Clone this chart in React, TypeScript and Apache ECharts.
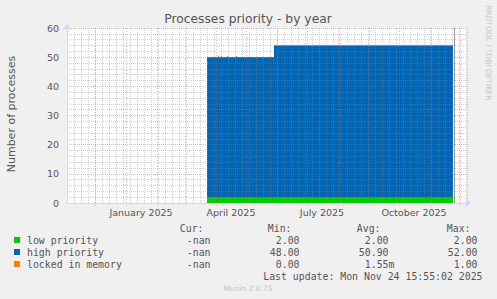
import React, { useEffect, useRef } from "react";
import * as echarts from "echarts";

// ---------- data ----------
const chartTitle = "Processes priority - by year";
const yAxisName = "Number of processes";
const axisStart = "2024-11-03";
const axisEnd = "2025-12-08";
const yMin = 0;
const yMax = 60;
const yInterval = 10;

const xTickDates = ["2025-01-16", "2025-04-16", "2025-07-16", "2025-10-16"];
const xTickLabels = ["January 2025", "April 2025", "July 2025", "October 2025"];
const monthStarts = [
  "2024-12-01", "2025-01-01", "2025-02-01", "2025-03-01", "2025-04-01",
  "2025-05-01", "2025-06-01", "2025-07-01", "2025-08-01", "2025-09-01",
  "2025-10-01", "2025-11-01", "2025-12-01",
];

const sampleDates = [
  "2025-03-23", "2025-04-03", "2025-04-04", "2025-04-06", "2025-04-07",
  "2025-04-12", "2025-04-13", "2025-04-21", "2025-04-22", "2025-05-29", "2025-11-24",
];
const lowPriority = [2, 2, 2, 2, 2, 2, 2, 2, 2, 2, 2];
const highPriority = [48, 48, 48, 48, 48, 48, 48, 48, 48, 52, 52];
const lockedInMemory = [0, 0.4, 0, 0.4, 0, 0.4, 0, 0.4, 0, 0, 0];
const dataEndMarker = ["2025-11-25"];

const legendNames = ["low priority", "high priority", "locked in memory"];
const legendColors = ["#00CC00", "#0066B3", "#FF8000"];
const statHeaders = ["Cur:", "Min:", "Avg:", "Max:"];
const curValues = ["-nan", "-nan", "-nan"];
const minValues = ["2.00", "48.00", "0.00"];
const avgValues = ["2.00", "50.90", "1.55m"];
const maxValues = ["2.00", "52.00", "1.00"];
const lastUpdate = "Last update: Mon Nov 24 15:55:02 2025";
const footerText = "Munin 2.0.75";
const sideText = "RRDTOOL / TOBI OETIKER";

// ---------- helpers ----------
const DAY = 86400000;
const ts = (d: string) => Date.parse(d + "T00:00:00Z");

export default function App() {
  const ref = useRef<HTMLDivElement>(null);

  useEffect(() => {
    if (!ref.current) return;
    const chart = echarts.init(ref.current, null, { renderer: "svg" });

    const xs = sampleDates.map(ts);
    const cumLow = lowPriority.slice();
    const cumHigh = lowPriority.map((v, i) => v + highPriority[i]);
    const cumLocked = cumHigh.map((v, i) => v + lockedInMemory[i]);

    const area = (name: string, color: string, vals: number[]) => ({
      type: "line",
      name,
      step: "end",
      data: xs.map((x, i) => [x, vals[i]]),
      showSymbol: false,
      symbol: "none",
      lineStyle: { width: 0, color },
      itemStyle: { color },
      areaStyle: { color, opacity: 1 },
      silent: true,
      z: 2,
    });

    const mono = '"DejaVu Sans Mono", monospace';
    const sans = '"DejaVu Sans", sans-serif';
    const textColor = "#555555";
    const charW = 9.85 * 0.602;

    const headerRight = [203.5, 291.5, 380.5, 470.5];
    const valueRight = [210.5, 299.5, 388.5, 477.5];
    const rowY = [240, 252, 264];
    const cols = [curValues, minValues, avgValues, maxValues];

    const graphics: any[] = [
      {
        type: "text",
        x: 248,
        y: 18.5,
        style: { text: chartTitle, fill: textColor, fontSize: 12.3, fontFamily: sans, align: "center", verticalAlign: "middle" },
      },
      {
        type: "text",
        x: 11,
        y: 114,
        rotation: Math.PI / 2,
        style: { text: yAxisName, fill: textColor, fontSize: 11, fontFamily: sans, align: "center", verticalAlign: "middle" },
      },
      {
        type: "text",
        x: 488.5,
        y: 53,
        rotation: -Math.PI / 2,
        style: { text: sideText, fill: "#c4c4c4", fontSize: 7.4, fontFamily: sans, align: "center", verticalAlign: "middle" },
      },
      {
        type: "text",
        x: 248,
        y: 288,
        style: { text: footerText, fill: "#c4c4c4", fontSize: 7.5, fontFamily: sans, align: "center", verticalAlign: "middle" },
      },
      {
        type: "text",
        x: 482.5,
        y: 276,
        style: { text: lastUpdate, fill: textColor, fontSize: 9.85, fontFamily: mono, align: "right", verticalAlign: "middle" },
      },
    ];
    statHeaders.forEach((h, c) => {
      graphics.push({
        type: "text",
        x: headerRight[c],
        y: 228,
        style: { text: h, fill: textColor, fontSize: 9.85, fontFamily: mono, align: "right", verticalAlign: "middle" },
      });
    });
    legendNames.forEach((name, r) => {
      graphics.push({
        type: "rect",
        shape: { x: 14, y: rowY[r] - 3, width: 6, height: 6 },
        style: { fill: legendColors[r] },
      });
      graphics.push({
        type: "text",
        x: 27,
        y: rowY[r],
        style: { text: name, fill: textColor, fontSize: 9.85, fontFamily: mono, align: "left", verticalAlign: "middle" },
      });
      cols.forEach((col, c) => {
        const v = col[r];
        const suffix = /[a-zA-Z]$/.test(v) && v !== "-nan" ? charW : 0;
        graphics.push({
          type: "text",
          x: valueRight[c] + suffix,
          y: rowY[r],
          style: { text: v, fill: textColor, fontSize: 9.85, fontFamily: mono, align: "right", verticalAlign: "middle" },
        });
      });
    });

    const minorGrid = "rgba(140,140,140,0.4)";
    const majorGrid = "rgba(222,79,79,0.45)";

    chart.setOption({
      animation: false,
      backgroundColor: "#F0F0F0",
      grid: {
        left: 67,
        top: 28,
        width: 400,
        height: 175,
        show: true,
        backgroundColor: "#FFFFFF",
        borderWidth: 0,
        containLabel: false,
      },
      xAxis: [
        {
          type: "value",
          min: ts(axisStart),
          max: ts(axisEnd),
          interval: 7 * DAY,
          z: 5,
          axisLine: {
            show: true,
            lineStyle: { color: "#CFD6F8", width: 1 },
            symbol: ["none", "arrow"],
            symbolSize: [7, 6],
            symbolOffset: [0, 4],
          },
          axisTick: { show: false },
          axisLabel: { show: false },
          splitLine: { show: true, lineStyle: { color: minorGrid, type: [1, 1], width: 1 } },
        },
        {
          type: "value",
          min: ts(axisStart),
          max: ts(axisEnd),
          position: "bottom",
          z: 5,
          axisLine: { show: false },
          axisTick: { show: false },
          splitLine: { show: false },
          axisLabel: {
            show: true,
            customValues: xTickDates.map(ts),
            margin: 4,
            color: textColor,
            fontSize: 9.5,
            fontFamily: sans,
            formatter: (v: number) => {
              const i = xTickDates.findIndex((d) => ts(d) === v);
              return i >= 0 ? xTickLabels[i] : "";
            },
          },
        },
      ],
      yAxis: {
        type: "value",
        min: yMin,
        max: yMax,
        interval: yInterval,
        z: 5,
        axisLine: {
          show: true,
          lineStyle: { color: "#CFD6F8", width: 1 },
          symbol: ["none", "arrow"],
          symbolSize: [7, 6],
          symbolOffset: [0, 4],
        },
        axisTick: { show: false },
        axisLabel: { color: textColor, fontSize: 9.5, fontFamily: sans, margin: 8 },
        splitLine: { show: true, lineStyle: { color: majorGrid, type: [1, 1], width: 1 } },
        minorTick: { show: false, splitNumber: 5 },
        minorSplitLine: { show: true, lineStyle: { color: minorGrid, type: [1, 1], width: 1 } },
      },
      series: [
        area(legendNames[2], legendColors[2], cumLocked),
        area(legendNames[1], legendColors[1], cumHigh),
        area(legendNames[0], legendColors[0], cumLow),
        {
          type: "custom",
          silent: true,
          z: 10,
          xAxisIndex: 0,
          yAxisIndex: 0,
          data: monthStarts.map((d) => [ts(d), yMin]),
          encode: { x: 0, y: 1 },
          renderItem: (params: any, api: any) => {
            const p0 = api.coord([api.value(0), yMin]);
            const p1 = api.coord([api.value(0), yMax]);
            const x = Math.round(p0[0]) + 0.5;
            return {
              type: "line",
              shape: { x1: x, y1: p1[1], x2: x, y2: p0[1] + 3 },
              style: { stroke: majorGrid, lineWidth: 1, lineDash: [1, 2] },
            };
          },
        },
        {
          type: "custom",
          silent: true,
          z: 11,
          xAxisIndex: 0,
          yAxisIndex: 0,
          data: dataEndMarker.map((d) => [ts(d), yMin]),
          encode: { x: 0, y: 1 },
          renderItem: (params: any, api: any) => {
            const p0 = api.coord([api.value(0), yMin]);
            const p1 = api.coord([api.value(0), yMax]);
            const x = Math.round(p0[0]) + 0.5;
            return {
              type: "line",
              shape: { x1: x, y1: p1[1], x2: x, y2: p0[1] },
              style: { stroke: "#9a9a9a", lineWidth: 1 },
            };
          },
        },
      ],
      graphic: graphics,
    });

    return () => chart.dispose();
  }, []);

  return (
    <div
      ref={ref}
      style={{ position: "absolute", left: 0, top: 0, width: 497, height: 299 }}
    />
  );
}
